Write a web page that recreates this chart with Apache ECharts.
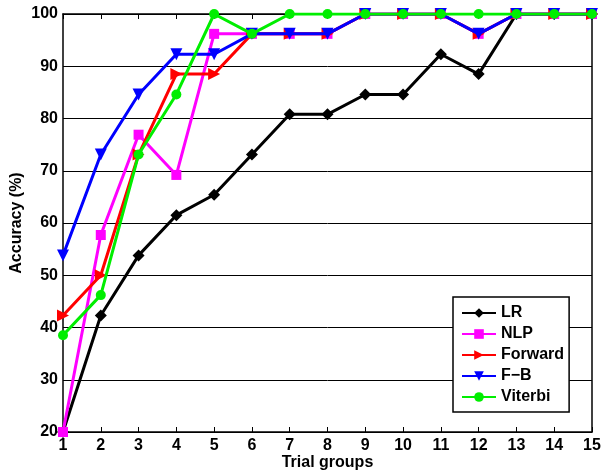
<!DOCTYPE html>
<html><head><meta charset="utf-8">
<script src="https://cdn.jsdelivr.net/npm/echarts@6/dist/echarts.min.js"></script>
<style>html,body{margin:0;padding:0;background:#fff}#c{width:601px;height:475px}</style>
</head><body><div id="c"></div>
<script>
const categories = ['1','2','3','4','5','6','7','8','9','10','11','12','13','14','15'];
const seriesNames = ['LR','NLP','Forward','F\u2212B','Viterbi'];
const lrValues      = [20, 42.3, 53.8, 61.5, 65.4, 73.1, 80.8, 80.8, 84.6, 84.6, 92.3, 88.5, 100, 100, 100];
const nlpValues     = [20, 57.7, 76.9, 69.2, 96.2, 96.2, 96.2, 96.2, 100, 100, 100, 96.2, 100, 100, 100];
const forwardValues = [42.3, 50, 73.1, 88.5, 88.5, 96.2, 96.2, 96.2, 100, 100, 100, 96.2, 100, 100, 100];
const fbValues      = [53.8, 73.1, 84.6, 92.3, 92.3, 96.2, 96.2, 96.2, 100, 100, 100, 96.2, 100, 100, 100];
const viterbiValues = [38.5, 46.2, 73.1, 84.6, 100, 96.2, 100, 100, 100, 100, 100, 100, 100, 100, 100];
const yTicks = [20, 30, 40, 50, 60, 70, 80, 90, 100];

const FONT = 'Liberation Sans, Arial, sans-serif';
const styles = [
  {color:'#000000', symbol:'diamond', size:12, rot:0},
  {color:'#ff00ff', symbol:'rect', size:10, rot:0},
  {color:'#ff0000', symbol:'triangle', size:12, rot:-90},
  {color:'#0000ff', symbol:'triangle', size:12, rot:180},
  {color:'#00ee00', symbol:'circle', size:10, rot:0}
];
const allValues = [lrValues, nlpValues, forwardValues, fbValues, viterbiValues];

const chart = echarts.init(document.getElementById('c'), null, {renderer:'canvas'});
const series = allValues.map((vals, i) => ({
  name: seriesNames[i],
  type: 'line',
  data: vals.map((v, j) => [j + 1, v]),
  symbol: styles[i].symbol,
  symbolSize: styles[i].size,
  symbolRotate: styles[i].rot,
  lineStyle: {color: styles[i].color, width: 3},
  itemStyle: {color: styles[i].color},
  z: 2 + i,
  animation: false
}));

chart.setOption({
  animation: false,
  grid: {left: 63, right: 9, top: 14, bottom: 43, containLabel: false, outerBoundsMode: 'none'},
  legend: {
    orient: 'vertical', left: 453, top: 297,
    itemWidth: 34, itemHeight: 12, itemGap: 5,
    padding: [8, 5, 7, 8],
    borderColor: '#000', borderWidth: 1.5, backgroundColor: '#fff',
    textStyle: {fontFamily: FONT, fontWeight: 'bold', fontSize: 16, color: '#000'},
    data: seriesNames
  },
  xAxis: [{
    type: 'value', min: 1, max: 15, interval: 1,
    name: 'Trial groups', nameLocation: 'middle', nameGap: 23, nameMoveOverlap: false,
    nameTextStyle: {fontFamily: FONT, fontWeight: 'bold', fontSize: 16, color: '#000'},
    axisLine: {lineStyle: {color: '#000', width: 1.5}},
    axisTick: {inside: true, length: 5, lineStyle: {color: '#000'}},
    axisLabel: {fontFamily: FONT, fontWeight: 'bold', fontSize: 16, color: '#000', margin: 6},
    splitLine: {show: false}
  }, {
    type: 'value', min: 1, max: 15, interval: 1, position: 'top',
    axisLine: {lineStyle: {color: '#000', width: 1.5}},
    axisTick: {inside: true, length: 5, lineStyle: {color: '#000'}},
    axisLabel: {show: false}, splitLine: {show: false}
  }],
  yAxis: [{
    type: 'value', min: 20, max: 100, interval: 10,
    name: 'Accuracy (%)', nameLocation: 'middle', nameGap: 38, nameMoveOverlap: false,
    nameTextStyle: {fontFamily: FONT, fontWeight: 'bold', fontSize: 16, color: '#000'},
    axisLine: {lineStyle: {color: '#000', width: 1.5}},
    axisTick: {inside: true, length: 5, lineStyle: {color: '#000'}},
    axisLabel: {fontFamily: FONT, fontWeight: 'bold', fontSize: 16, color: '#000', margin: 5,
      formatter: v => yTicks.includes(v) ? String(v) : ''},
    splitLine: {show: true, lineStyle: {color: '#000', width: 1}}
  }, {
    type: 'value', min: 20, max: 100, interval: 10, position: 'right',
    axisLine: {show: true, lineStyle: {color: '#000', width: 1.5}},
    axisTick: {show: true, inside: true, length: 5, lineStyle: {color: '#000'}},
    axisLabel: {show: false}, splitLine: {show: false}
  }],
  series: series
});
</script></body></html>
